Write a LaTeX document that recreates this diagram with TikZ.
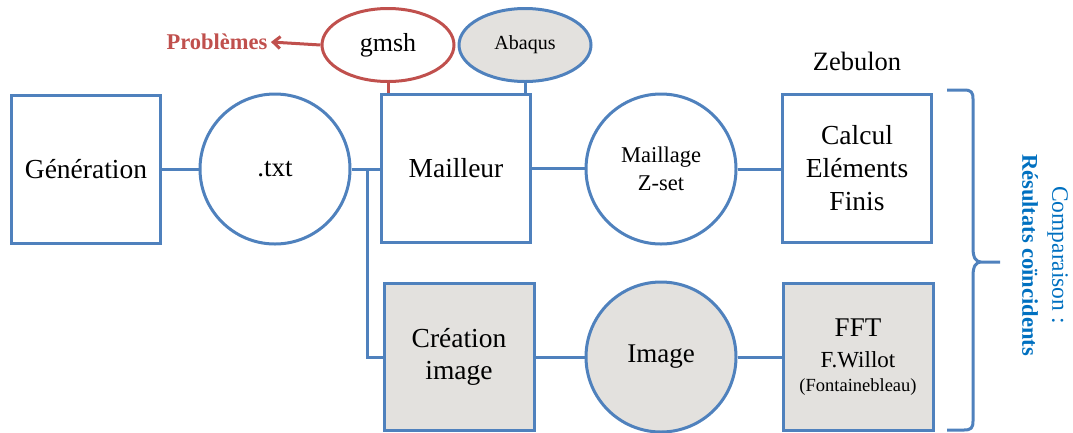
\documentclass[tikz,border=0pt]{standalone}
\usepackage{fontspec}
\setmainfont{Liberation Serif}
\usetikzlibrary{calc,arrows.meta,shapes.geometric}
\definecolor{ob}{RGB}{79,129,189}
\definecolor{og}{RGB}{227,225,222}
\definecolor{ored}{RGB}{192,80,77}
\definecolor{tb}{RGB}{0,112,192}
\begin{document}
\begin{tikzpicture}[x=1pt,y=-1pt,
  box/.style={draw=ob,line width=3pt,rectangle,minimum width=149pt,minimum height=148pt,inner sep=0pt,align=center,font=\fontsize{27.5}{33}\selectfont},
  circ/.style={draw=ob,line width=3pt,circle,minimum size=150pt,inner sep=0pt,align=center,font=\fontsize{27}{32}\selectfont},
  oval/.style={line width=3pt,ellipse,minimum width=132pt,minimum height=73pt,inner sep=0pt},
  link/.style={draw=ob,line width=3pt},
  filled/.style={fill=og}]
\useasboundingbox (0,0) rectangle (1073,432);
% top row
\node[box] (gen) at (86,169) {Génération};
\node[circ] (txt) at (275,169) {.txt};
\node[box] (mail) at (456,168) {Mailleur};
\node[circ,font=\fontsize{22.5}{27.7}\selectfont] (maz) at (661,169) {Maillage\\Z-set};
\node[box] (calc) at (857,168) {Calcul\\Eléments\\Finis};
% bottom row
\node[box,filled,minimum width=150pt,minimum height=147pt,font=\fontsize{27.5}{32}\selectfont] (cre) at (459,357) {Création\\image};
\node[circ,filled] (img) at (661,357) {Image};
\node[box,filled,minimum width=150pt,minimum height=147pt,font=\fontsize{27}{31}\selectfont] (fft) at (858,357)
  {FFT\\{\fontsize{23}{27}\selectfont F.Willot}\\[-7.5pt]{\fontsize{18.5}{22}\selectfont (Fontainebleau)}};
% software ellipses
\node[oval,draw=ored,fill=white,font=\fontsize{26}{30}\selectfont] (gmsh) at (388,45) {gmsh};
\node[oval,draw=ob,filled,font=\fontsize{20}{24}\selectfont] (abq) at (525,45) {Abaqus};
\node[text=ored,font=\fontsize{22.5}{26}\selectfont\bfseries] (prob) at (217,42) {Problèmes};
\node[font=\fontsize{26.5}{30}\selectfont] (zeb) at (857,61) {Zebulon};
% connectors
\draw[link] (gen.east) -- (txt.west);
\draw[link] (txt.east) -- (txt.east -| mail.west);
\coordinate (j) at (367,169);
\draw[link] (j) |- (cre.west);
\draw[link] (mail.east) -- (mail.east -| maz.west);
\draw[link] (maz.east) -- (maz.east -| calc.west);
\draw[link] (cre.east) -- (img.west);
\draw[link] (img.east) -- (fft.west);
\draw[draw=ored,line width=3pt] (gmsh.south) -- (gmsh.south |- mail.north);
\draw[link] (abq.south) -- (abq.south |- mail.north);
\draw[draw=ored,line width=3pt,-{Straight Barb[length=7pt,width=12pt]}] (gmsh.west) -- (prob.east);
% brace and conclusion
\coordinate (bt) at (947,90);
\coordinate (bb) at (947,430);
\coordinate (btip) at (1000,262);
\draw[draw=ob,line width=3pt,line join=round]
  (bt) -- (964,90) .. controls (971,90) and (973,92) .. (973,99)
  -- (973,248) .. controls (973,258) and (976,262) .. (981,262) -- (btip)
  (981,262) .. controls (976,262) and (973,266) .. (973,276)
  -- (973,421) .. controls (973,428) and (971,430) .. (964,430) -- (bb);
\node[rotate=-90,text=tb,align=center,font=\fontsize{23.5}{30}\selectfont] (res) at (1045,255)
  {Comparaison :\\{\bfseries\fontsize{22.5}{30}\selectfont Résultats coïncidents}};
\end{tikzpicture}
\end{document}
